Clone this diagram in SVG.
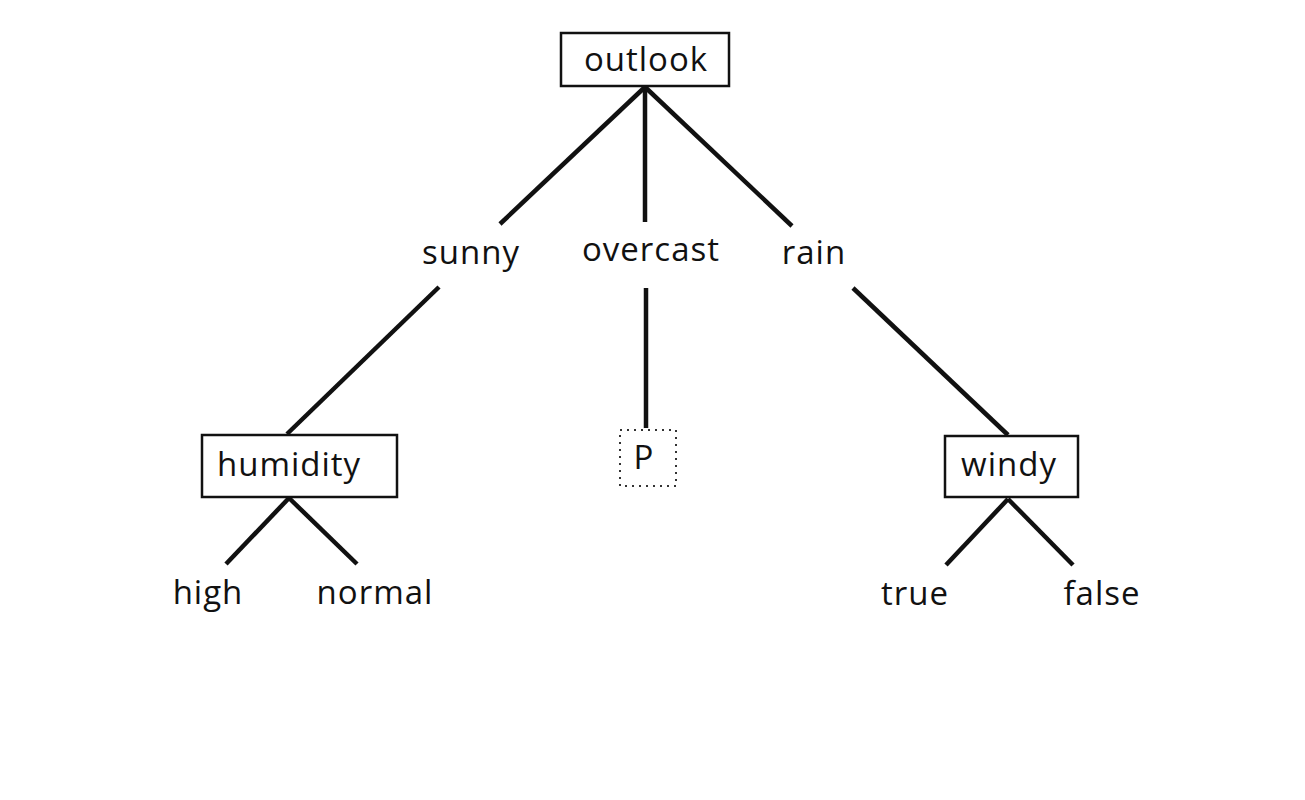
<svg xmlns="http://www.w3.org/2000/svg" width="1305" height="800" viewBox="0 0 1305 800">
<style>
.box{fill:#fff;stroke:#111;stroke-width:2.5}
.dot{fill:#fff;stroke:#333;stroke-width:2;stroke-dasharray:2 5}
.t{font-family:"Open Sans","DejaVu Sans",sans-serif;font-size:33px;font-weight:500;fill:#111;text-anchor:middle;letter-spacing:1px}
.e line{stroke:#111;stroke-width:4.5;stroke-linecap:butt}
</style>
<rect width="1305" height="800" fill="#fff"/>
<g class="e" id="connectors">
<line x1="645" y1="87" x2="500" y2="224"/>
<line x1="645" y1="87" x2="645" y2="222"/>
<line x1="645" y1="87" x2="792" y2="226"/>
<line x1="439" y1="287" x2="287" y2="434"/>
<line x1="646" y1="288" x2="646" y2="428"/>
<line x1="853" y1="288" x2="1008" y2="435"/>
<line x1="289" y1="498" x2="226" y2="564"/>
<line x1="289" y1="498" x2="357" y2="564"/>
<line x1="1008" y1="499" x2="946" y2="565"/>
<line x1="1008" y1="499" x2="1073" y2="565"/>
</g>
<g id="outlook"><rect class="box" x="561" y="33" width="168" height="53"/><text class="t" x="646" y="71">outlook</text></g>
<g id="sunny"><text class="t" x="471" y="264">sunny</text></g>
<g id="overcast"><text class="t" x="651" y="261">overcast</text></g>
<g id="rain"><text class="t" x="814" y="264">rain</text></g>
<g id="humidity"><rect class="box" x="202" y="435" width="195" height="62"/><text class="t" x="289" y="476">humidity</text></g>
<g id="P"><rect class="dot" x="620" y="430" width="56" height="56"/><text class="t" x="644" y="469">P</text></g>
<g id="windy"><rect class="box" x="945" y="436" width="133" height="61"/><text class="t" x="1009" y="476">windy</text></g>
<g id="high"><text class="t" x="208" y="604">high</text></g>
<g id="normal"><text class="t" x="375" y="604">normal</text></g>
<g id="true"><text class="t" x="915" y="605">true</text></g>
<g id="false"><text class="t" x="1102" y="605">false</text></g>
</svg>
